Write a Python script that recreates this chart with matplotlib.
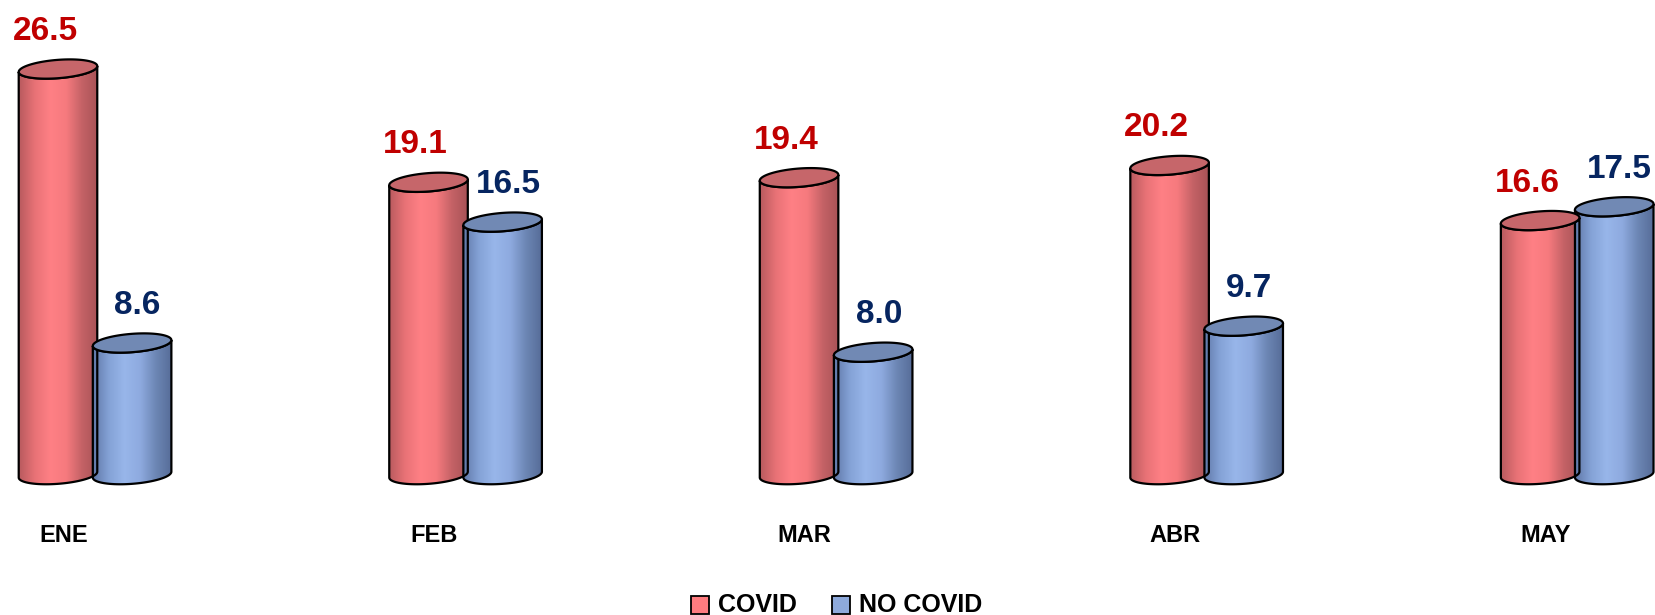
import numpy as np
import matplotlib.pyplot as plt
from matplotlib.colors import LinearSegmentedColormap
from matplotlib.patches import Polygon, Rectangle

# data
months = ["ENE", "FEB", "MAR", "ABR", "MAY"]
covid = [26.5, 19.1, 19.4, 20.2, 16.6]
no_covid = [8.6, 16.5, 8.0, 9.7, 17.5]
series_names = ["COVID", "NO COVID"]

plt.rcParams['font.family'] = ['Liberation Sans', 'DejaVu Sans']

fig = plt.figure(figsize=(16.55, 6.15), dpi=100)
ax = fig.add_axes([0, 0, 1, 1])
ax.set_xlim(-0.1565, 4.310)
ax.set_ylim(-9.17, 31.01)
ax.axis('off')

# cylinder geometry (data units)
a = 0.106    # half width
b = 0.6      # ellipse half height
s = 0.19     # tilt of the ellipses
offset = 0.2  # second series shift

red_cmap = LinearSegmentedColormap.from_list(
    "red", ["#b85a5e", "#e87276", "#ff8085", "#f67a7e", "#c46266", "#a85256"])
blue_cmap = LinearSegmentedColormap.from_list(
    "blue", ["#6078a8", "#84a2d6", "#98b6ea", "#8eaadf", "#6c86b4", "#566c98"])
styles = [
    dict(cmap=red_cmap, top="#c6666a", label_color="#c00000", lab_dx=-0.035),
    dict(cmap=blue_cmap, top="#7189b4", label_color="#062560", lab_dx=0.015),
]


def half_ellipse(cx, cy, lower=True, n=60):
    t = np.linspace(np.pi, 2 * np.pi, n) if lower else np.linspace(0, np.pi, n)
    x = cx + a * np.cos(t)
    y = cy + b * np.sin(t) + s * np.cos(t)
    return x, y


def cylinder(cx, h, st):
    # body: bottom front arc left->right, then top front arc right->left
    bx, by = half_ellipse(cx, 0, lower=True)
    tx, ty = half_ellipse(cx, h, lower=True)
    xs = np.concatenate([bx, tx[::-1]])
    ys = np.concatenate([by, ty[::-1]])
    body = Polygon(np.column_stack([xs, ys]), closed=True, fc="none",
                   ec="black", lw=1.6, zorder=3)
    ax.add_patch(body)
    grad = np.linspace(0, 1, 256).reshape(1, -1)
    im = ax.imshow(grad, cmap=st["cmap"], aspect="auto",
                   extent=[cx - a, cx + a, -b - s - 0.1, h + b + s], zorder=2)
    im.set_clip_path(body)
    # top ellipse
    t = np.linspace(0, 2 * np.pi, 120)
    ex = cx + a * np.cos(t)
    ey = h + b * np.sin(t) + s * np.cos(t)
    ax.add_patch(Polygon(np.column_stack([ex, ey]), closed=True,
                         fc=st["top"], ec="black", lw=1.6, zorder=4))


for i, m in enumerate(months):
    for k, vals in enumerate([covid, no_covid]):
        cx = i + k * offset
        cylinder(cx, vals[i], styles[k])
        ax.text(cx + styles[k]["lab_dx"], vals[i] + 2.45, f"{vals[i]:.1f}",
                ha="center", va="center", fontsize=24, fontweight="bold",
                color=styles[k]["label_color"], zorder=5)
    ax.text(i + 0.015, -3.95, m, ha="center", va="center", fontsize=17,
            fontweight="bold", color="black")

# legend
leg_y = 0.0016
for k, (name, col) in enumerate(zip(series_names, ["#ff7c80", "#8eaadc"])):
    x0 = [0.4175, 0.5027][k]
    fig.patches.append(Rectangle((x0, leg_y), 0.0109, 0.029,
                                 transform=fig.transFigure, fc=col,
                                 ec="black", lw=1.3))
    fig.text(x0 + 0.0163, 0.016, name, ha="left", va="center",
             fontsize=18, fontweight="bold", color="black")

fig.savefig("out.png", dpi=100)
